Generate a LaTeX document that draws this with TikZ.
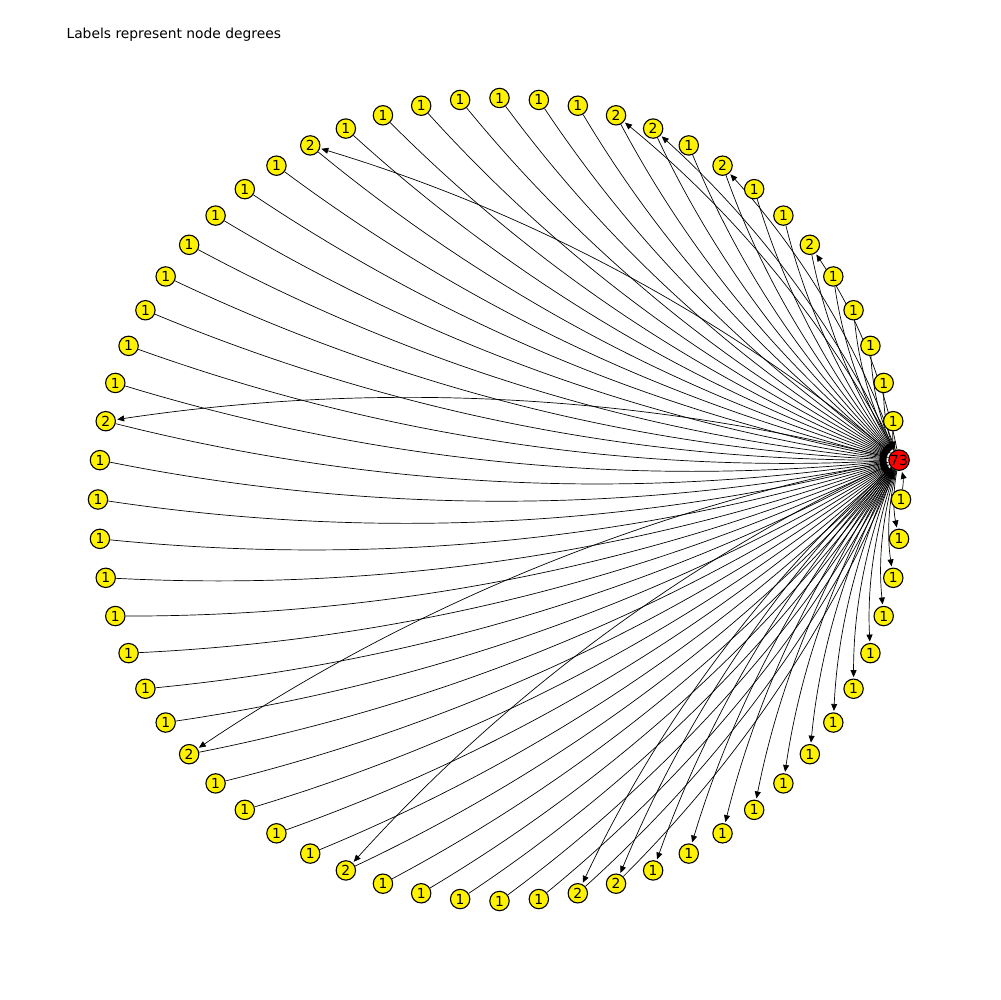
\documentclass[tikz,border=0pt]{standalone}
\usepackage{fontspec}
\setmainfont{DejaVu Sans}
\usetikzlibrary{arrows.meta,backgrounds}
\begin{document}
\begin{tikzpicture}[x=0.01in,y=0.01in,
    every node/.style={circle,draw,fill=yellow,line width=0.8pt,
      minimum size=14pt,inner sep=0pt,font=\fontsize{10pt}{12pt}\selectfont}]
      \useasboundingbox (-499.5,-500.5) rectangle (500.5,499.5);
      \node[rectangle,draw=none,fill=none,anchor=base west] (title) at (-433.5,460.5) {Labels represent node degrees};
      \draw
        (0.0:401.5) node (0){1}
        (5.625:401.5) node[fill=red] (1){73}
        (11.25:401.5) node (2){1}
        (16.875:401.5) node (3){1}
        (22.5:401.5) node (4){1}
        (28.125:401.5) node (5){1}
        (33.75:401.5) node (6){1}
        (39.375:401.5) node (7){2}
        (45.0:401.5) node (8){1}
        (50.625:401.5) node (9){1}
        (56.25:401.5) node (10){2}
        (61.875:401.5) node (11){1}
        (67.5:401.5) node (12){2}
        (73.125:401.5) node (13){2}
        (78.75:401.5) node (14){1}
        (84.375:401.5) node (15){1}
        (90.0:401.5) node (16){1}
        (95.625:401.5) node (17){1}
        (101.25:401.5) node (18){1}
        (106.875:401.5) node (19){1}
        (112.5:401.5) node (20){1}
        (118.125:401.5) node (21){2}
        (123.75:401.5) node (22){1}
        (129.375:401.5) node (23){1}
        (135.0:401.5) node (24){1}
        (140.625:401.5) node (25){1}
        (146.25:401.5) node (26){1}
        (151.875:401.5) node (27){1}
        (157.5:401.5) node (28){1}
        (163.125:401.5) node (29){1}
        (168.75:401.5) node (30){2}
        (174.375:401.5) node (31){1}
        (180.0:401.5) node (32){1}
        (185.625:401.5) node (33){1}
        (191.25:401.5) node (34){1}
        (196.875:401.5) node (35){1}
        (202.5:401.5) node (36){1}
        (208.125:401.5) node (37){1}
        (213.75:401.5) node (38){1}
        (219.375:401.5) node (39){2}
        (225.0:401.5) node (40){1}
        (230.625:401.5) node (41){1}
        (236.25:401.5) node (42){1}
        (241.875:401.5) node (43){1}
        (247.5:401.5) node (44){2}
        (253.125:401.5) node (45){1}
        (258.75:401.5) node (46){1}
        (264.375:401.5) node (47){1}
        (270.0:401.5) node (48){1}
        (275.625:401.5) node (49){1}
        (281.25:401.5) node (50){2}
        (286.875:401.5) node (51){2}
        (292.5:401.5) node (52){1}
        (298.125:401.5) node (53){1}
        (303.75:401.5) node (54){1}
        (309.375:401.5) node (55){1}
        (315.0:401.5) node (56){1}
        (320.625:401.5) node (57){1}
        (326.25:401.5) node (58){1}
        (331.875:401.5) node (59){1}
        (337.5:401.5) node (60){1}
        (343.125:401.5) node (61){1}
        (348.75:401.5) node (62){1}
        (354.375:401.5) node (63){1};
      \begin{scope}[on background layer]
      \begin{scope}[-{Triangle[length=5pt,width=4.3pt]},line width=0.5pt,shorten >=1pt,bend right=11.3,looseness=0.87]
        % in-edges to the hub
        \draw (0) to (1);
        \draw (2) to (1);
        \draw (3) to (1);
        \draw (4) to (1);
        \draw (5) to (1);
        \draw (6) to (1);
        \draw (7) to (1);
        \draw (8) to (1);
        \draw (9) to (1);
        \draw (10) to (1);
        \draw (11) to (1);
        \draw (12) to (1);
        \draw (13) to (1);
        \draw (14) to (1);
        \draw (15) to (1);
        \draw (16) to (1);
        \draw (17) to (1);
        \draw (18) to (1);
        \draw (19) to (1);
        \draw (20) to (1);
        \draw (21) to (1);
        \draw (22) to (1);
        \draw (23) to (1);
        \draw (24) to (1);
        \draw (25) to (1);
        \draw (26) to (1);
        \draw (27) to (1);
        \draw (28) to (1);
        \draw (29) to (1);
        \draw (30) to (1);
        \draw (31) to (1);
        \draw (32) to (1);
        \draw (33) to (1);
        \draw (34) to (1);
        \draw (35) to (1);
        \draw (36) to (1);
        \draw (37) to (1);
        \draw (38) to (1);
        \draw (39) to (1);
        \draw (40) to (1);
        \draw (41) to (1);
        \draw (42) to (1);
        \draw (43) to (1);
        \draw (44) to (1);
        \draw (45) to (1);
        \draw (46) to (1);
        \draw (47) to (1);
        \draw (48) to (1);
        \draw (49) to (1);
        \draw (50) to (1);
        \draw (51) to (1);
        % out-edges from the hub
        \draw (1) to (7);
        \draw (1) to (10);
        \draw (1) to (12);
        \draw (1) to (13);
        \draw (1) to (21);
        \draw (1) to (30);
        \draw (1) to (39);
        \draw (1) to (44);
        \draw (1) to (50);
        \draw (1) to (51);
        \draw (1) to (52);
        \draw (1) to (53);
        \draw (1) to (54);
        \draw (1) to (55);
        \draw (1) to (56);
        \draw (1) to (57);
        \draw (1) to (58);
        \draw (1) to (59);
        \draw (1) to (60);
        \draw (1) to (61);
        \draw (1) to (62);
        \draw (1) to (63);
      \end{scope}
      \end{scope}
    \end{tikzpicture}
\end{document}
